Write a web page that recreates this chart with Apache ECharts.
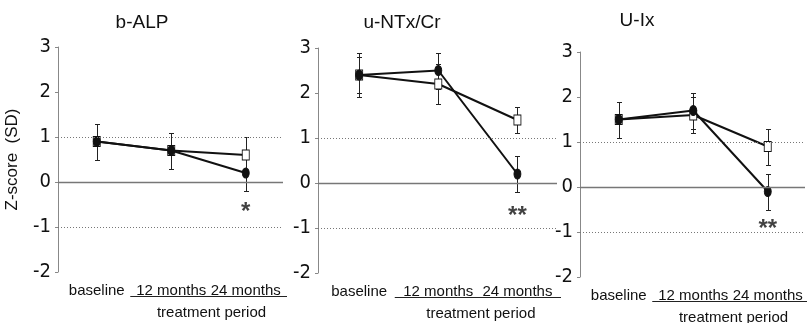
<!DOCTYPE html>
<html>
<head>
<meta charset="utf-8">
<script src="https://cdn.jsdelivr.net/npm/echarts@6/dist/echarts.min.js"></script>
<style>
  html, body { margin: 0; padding: 0; background: #fff; }
  #chart { width: 807px; height: 323px; }
</style>
</head>
<body>
<div id="chart"></div>
<script>
// 数据
const categories = ['baseline', '12 months', '24 months']
const panelTitles = ['b-ALP', 'u-NTx/Cr', 'U-Ix']
const yTicks = [-2, -1, 0, 1, 2, 3]

// filled markers (●)
const filledMean = [
  [0.9, 0.7, 0.2],
  [2.4, 2.5, 0.2],
  [1.5, 1.7, -0.1],
]
const filledErr = [
  [0.4, 0.4, 0.4],
  [0.48, 0.4, 0.4],
  [0.4, 0.4, 0.4],
]
// open markers (□)
const openMean = [
  [0.9, 0.7, 0.6],
  [2.4, 2.2, 1.4],
  [1.5, 1.6, 0.9],
]
const openErr = [
  [0.4, 0.4, 0.4],
  [0.4, 0.45, 0.28],
  [0.4, 0.4, 0.4],
]
// significance marks at 24 months
const sigMarks = ['*', '**', '**']
const sigY = [-0.55, -0.6, -0.8]

const SANS = "'Liberation Sans', Arial, sans-serif"
const NARROW = "'Liberation Sans Narrow', 'DejaVu Sans Condensed', sans-serif"

const grids = [
  { left: 58, top: 47, width: 225, height: 225 },
  { left: 318, top: 48, width: 239, height: 225 },
  { left: 580, top: 52, width: 225, height: 225 },
]

const chart = echarts.init(document.getElementById('chart'))

const errRender = (params, api) => {
  const x = api.value(0)
  const top = api.coord([x, api.value(2)])
  const bot = api.coord([x, api.value(1)])
  const cx = Math.round(top[0]) + 0.5
  const y1 = Math.round(top[1]) + 0.5
  const y2 = Math.round(bot[1]) + 0.5
  const style = { stroke: '#222', lineWidth: 1 }
  return {
    type: 'group',
    children: [
      { type: 'line', shape: { x1: cx, y1: y1, x2: cx, y2: y2 }, style },
      { type: 'line', shape: { x1: cx - 2.5, y1: y1, x2: cx + 2.5, y2: y1 }, style },
      { type: 'line', shape: { x1: cx - 2.5, y1: y2, x2: cx + 2.5, y2: y2 }, style },
    ],
  }
}

const xAxis = []
const yAxis = []
const series = []
const title = []

grids.forEach((g, i) => {
  title.push({
    text: panelTitles[i],
    left: g.left + [79, 79, 52][i],
    top: [8, 8, 6][i],
    textAlign: 'center',
    textStyle: { fontFamily: SANS, fontSize: 19, fontWeight: 'normal', color: '#111' },
  })
  xAxis.push({
    type: 'value',
    gridIndex: i,
    min: -0.52,
    max: 2.5,
    axisLine: { show: false },
    axisTick: { show: false },
    splitLine: { show: false },
    axisLabel: {
      customValues: [0, 1, 2],
      formatter: (v) => categories[Math.round(v)],
      fontFamily: SANS,
      fontSize: 15,
      color: '#111',
      margin: 11,
    },
  })
  yAxis.push({
    type: 'value',
    gridIndex: i,
    min: -2,
    max: 3,
    interval: 1,
    name: i === 0 ? 'Z-score  (SD)' : '',
    nameLocation: 'middle',
    nameGap: 37,
    nameTextStyle: { fontFamily: SANS, fontSize: 17, color: '#111' },
    axisLine: { show: true, onZero: false, lineStyle: { color: '#888', width: 1 } },
    axisTick: { show: true, length: 3, lineStyle: { color: '#888' } },
    splitLine: { show: false },
    axisLabel: { fontFamily: NARROW, fontSize: 20, color: '#111', margin: 7 },
  })

  // reference lines
  series.push({
    type: 'line',
    xAxisIndex: i,
    yAxisIndex: i,
    data: [],
    silent: true,
    markLine: {
      symbol: 'none',
      silent: true,
      label: { show: false },
      data: [
        { yAxis: 1, lineStyle: { type: [1, 2], color: '#777', width: 1 } },
        { yAxis: 0, lineStyle: { type: 'solid', color: '#777', width: 1.3 } },
        { yAxis: -1, lineStyle: { type: [1, 2], color: '#777', width: 1 } },
      ],
    },
  })

  // error bars
  const errData = []
  categories.forEach((c, k) => {
    errData.push([k, openMean[i][k] - openErr[i][k], openMean[i][k] + openErr[i][k]])
    errData.push([k, filledMean[i][k] - filledErr[i][k], filledMean[i][k] + filledErr[i][k]])
  })
  series.push({
    type: 'custom',
    xAxisIndex: i,
    yAxisIndex: i,
    renderItem: errRender,
    data: errData,
    z: 1,
  })

  series.push({
    type: 'line',
    xAxisIndex: i,
    yAxisIndex: i,
    data: openMean[i].map((v, k) => [k, v]),
    symbol: 'rect',
    symbolSize: [7, 10],
    showAllSymbol: true,
    lineStyle: { color: '#111', width: 2 },
    itemStyle: { color: '#fff', borderColor: '#111', borderWidth: 1 },
    z: 3,
  })
  series.push({
    type: 'line',
    xAxisIndex: i,
    yAxisIndex: i,
    data: filledMean[i].map((v, k) => [k, v]),
    symbol: 'circle',
    symbolSize: [7, 10],
    showAllSymbol: true,
    lineStyle: { color: '#111', width: 2 },
    itemStyle: { color: '#111', borderColor: '#111', borderWidth: 1 },
    z: 4,
  })

  // significance
  series.push({
    type: 'scatter',
    xAxisIndex: i,
    yAxisIndex: i,
    data: [[2, sigY[i]]],
    symbolSize: 0,
    silent: true,
    label: {
      show: true,
      position: 'inside',
      formatter: sigMarks[i],
      fontFamily: SANS,
      fontSize: 24,
      fontWeight: 'bold',
      color: '#111',
      offset: [0, 6],
    },
  })
})

chart.setOption({
  animation: false,
  backgroundColor: '#fff',
  title,
  grid: grids,
  xAxis,
  yAxis,
  series,
})

// underline under the treatment-period labels and its caption
const extra = []
grids.forEach((g, i) => {
  const a = chart.convertToPixel({ gridIndex: i }, [0.45, -2])
  const b = chart.convertToPixel({ gridIndex: i }, [2.5, -2])
  const mid = chart.convertToPixel({ gridIndex: i }, [1.5, -2])
  const y = Math.round(a[1]) + 24.5
  extra.push({
    type: 'line',
    shape: { x1: a[0], y1: y, x2: b[0] + 4, y2: y },
    style: { stroke: '#222', lineWidth: 1 },
  })
  extra.push({
    type: 'text',
    x: mid[0] + 3,
    y: Math.round(a[1]) + 41,
    style: {
      text: 'treatment period',
      fontFamily: SANS,
      fontSize: 15,
      fill: '#111',
      align: 'center',
      verticalAlign: 'middle',
    },
  })
})
chart.setOption({ graphic: extra })
</script>
</body>
</html>
